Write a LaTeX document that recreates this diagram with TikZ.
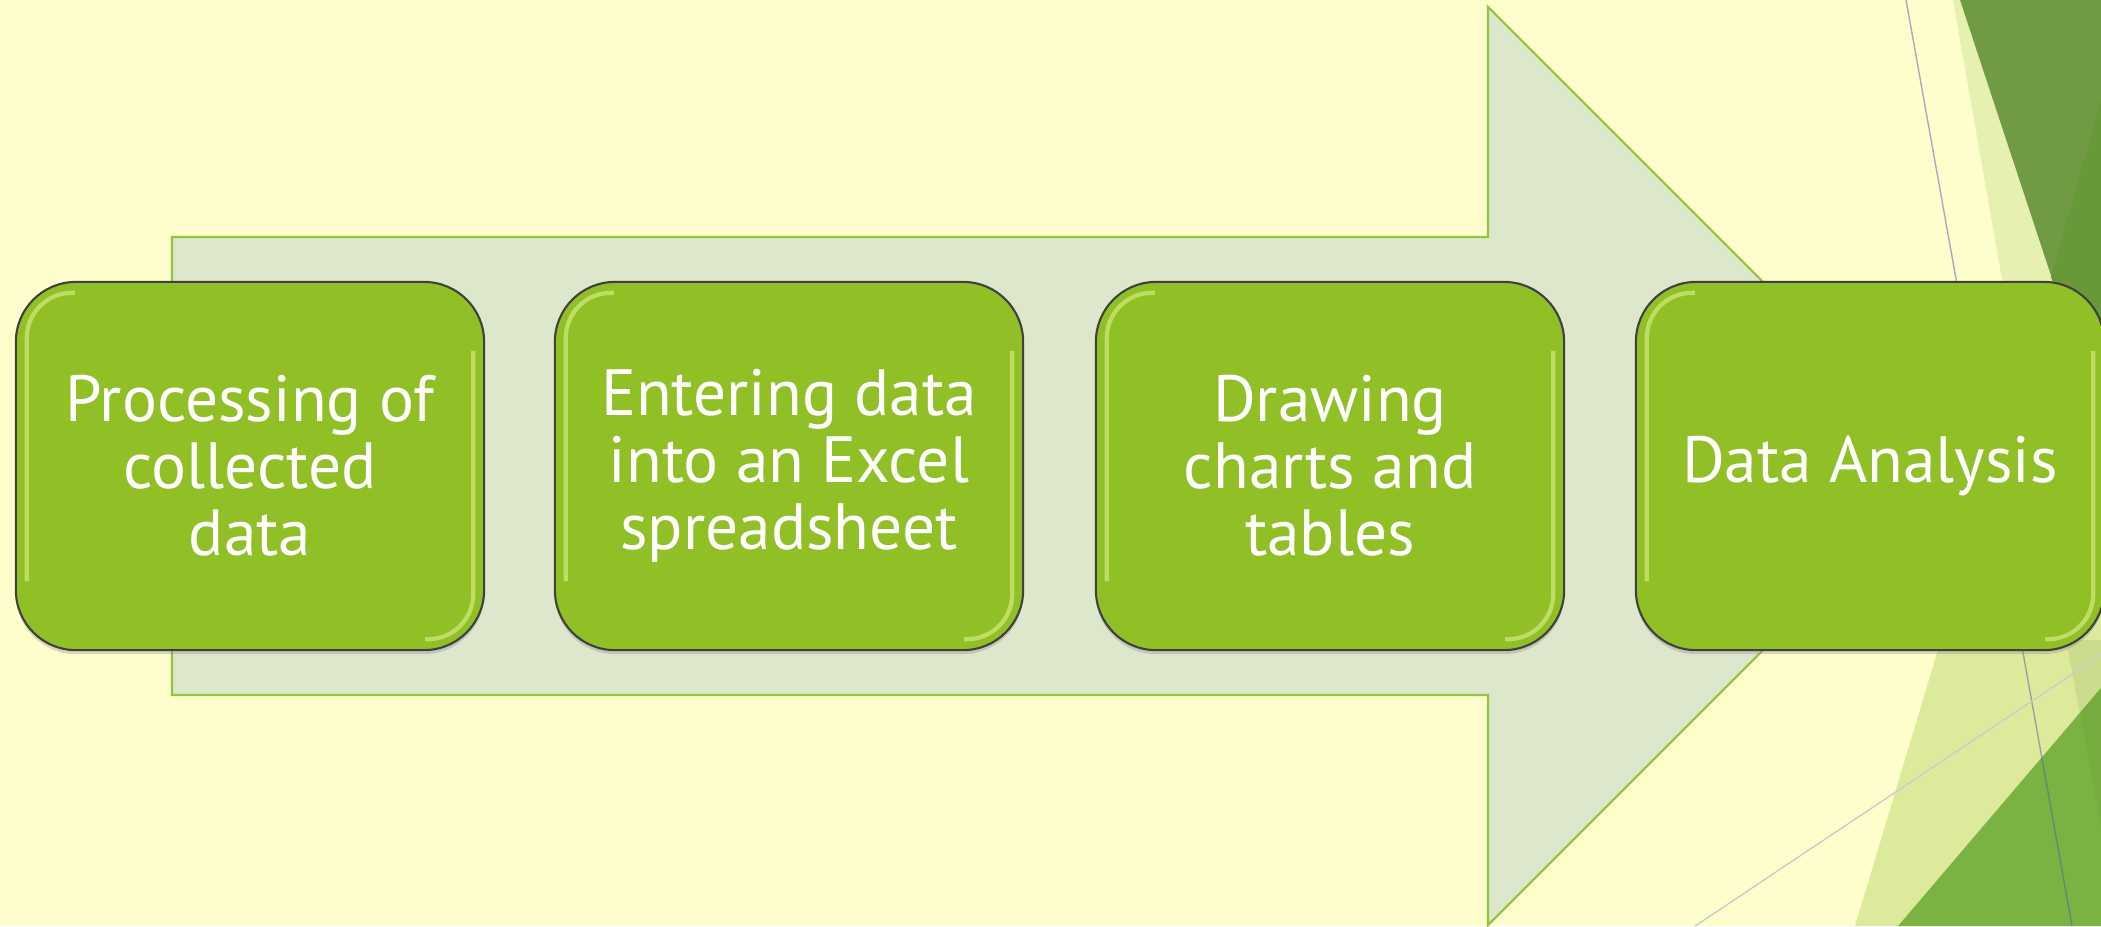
\documentclass[tikz,border=0pt]{standalone}
\usepackage{fontspec}
\setmainfont{PT Sans}
\usepackage{xcolor}
\usepackage{tikz}
\usetikzlibrary{shapes,positioning,shadows}
\definecolor{paper}{HTML}{FEFDCC}
\definecolor{shaft}{HTML}{DCE7CC}
\definecolor{shaftline}{HTML}{93C43E}
\definecolor{leaf}{HTML}{91C026}
\definecolor{shine}{HTML}{E4F59A}
\definecolor{darkleaf}{HTML}{719B42}
\definecolor{darkleafb}{HTML}{689939}
\definecolor{paleleaf}{HTML}{E6F0B0}
\definecolor{softleaf}{HTML}{DDEA9C}
\definecolor{midleaf}{HTML}{7BB342}
\tikzset{stage/.style={rectangle,rounded corners=0.6cm,draw=black!75,line width=0.6pt,fill=leaf,
    minimum width=4.68cm,minimum height=3.68cm,text=white,align=center,
    font=\fontsize{18.6}{19}\selectfont,
    drop shadow={opacity=0.3,shadow xshift=0pt,shadow yshift=-0.04cm}},
  gloss/.style={draw=shine,line width=1.2pt,rounded corners=0.45cm,opacity=0.55}}

\begin{document}
\begin{tikzpicture}[x=0.01cm,y=-0.01cm]
    \useasboundingbox (0,0) rectangle (2101,926);
    \clip (0,0) rectangle (2101,926);
    \fill[paper] (0,0) rectangle (2101,926);

    % facets on the right edge
    \fill[paleleaf] (1953,0) -- (2101,0) -- (2101,450) -- (2032,450) -- cycle;
    \fill[darkleaf] (1960,0) -- (2101,0) -- (2101,427) -- cycle;
    \fill[darkleafb] (2101,100) -- (2051,277) -- (2101,427) -- cycle;
    \fill[softleaf] (1998,450) -- (2101,450) -- (2101,926) -- (1855,926) -- cycle;
    \fill[darkleafb,opacity=0.15] (2066,640) -- (2101,640) -- (2101,827) -- cycle;
    \fill[midleaf] (1898,926) -- (2101,688) -- (2101,926) -- cycle;
    \fill[darkleafb,opacity=0.25] (2080,712) -- (2101,688) -- (2101,827) -- cycle;
    \draw[color=blue!30!gray,opacity=0.5,line width=0.4pt] (1906,0) -- (2072,926);
    \draw[color=black!20,line width=0.4pt] (1695,926) -- (2101,655);

    % big arrow behind the steps
    \draw[shaftline,fill=shaft,line width=0.6pt] (172,237) -- (1488,237) -- (1488,7) -- (1947,466)
        -- (1488,925) -- (1488,695) -- (172,695) -- cycle;

    \node[stage] (s1)at (250,466) {Processing of\\collected\\data};
    \node[stage] (s2)at (789,466) {Entering data\\into an Excel\\spreadsheet};
    \node[stage] (s3)at (1330,466) {Drawing\\charts and\\tables};
    \node[stage] (s4)at (1870,466) {Data Analysis};

    \foreach \s in {s1,s2,s3,s4} {
        \draw[gloss] ([shift={(60,12)}]\s.north west) -- ([shift={(12,12)}]\s.north west)
            -- ([shift={(12,-70)}]\s.south west);
        \draw[gloss] ([shift={(-12,70)}]\s.north east) -- ([shift={(-12,-12)}]\s.south east)
            -- ([shift={(-60,-12)}]\s.south east);
    }
\end{tikzpicture}
\end{document}
